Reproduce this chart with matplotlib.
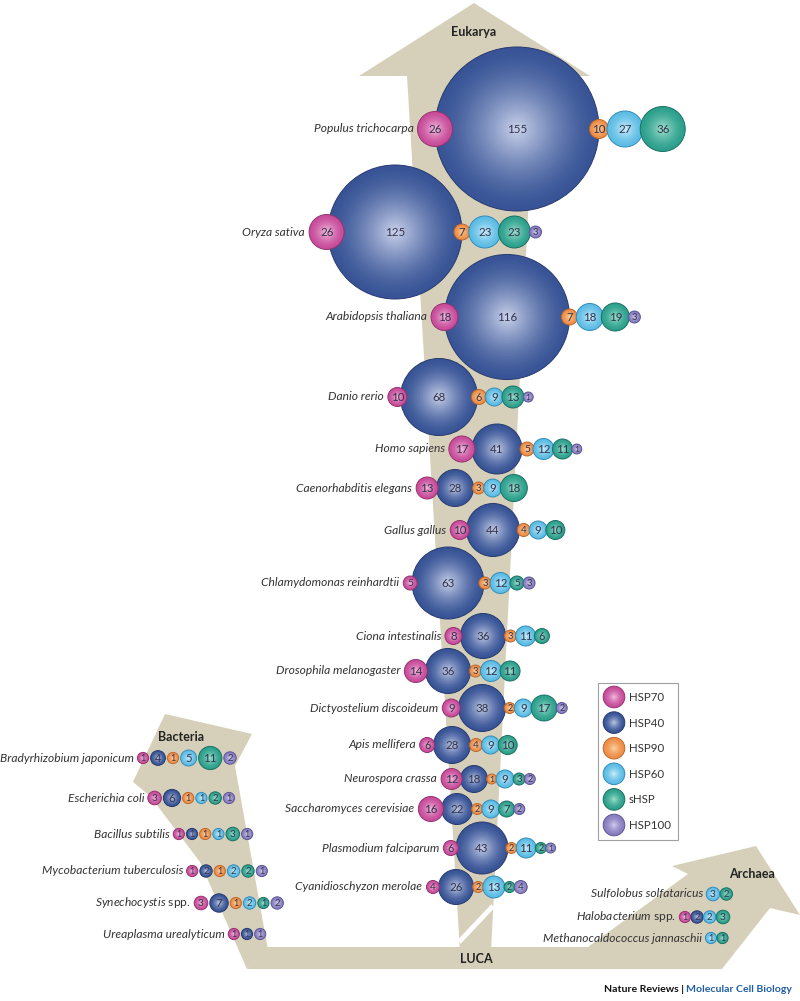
import numpy as np
import matplotlib
matplotlib.use("Agg")
import matplotlib.pyplot as plt
from matplotlib.patches import Circle, Polygon, Rectangle

plt.rcParams['font.family'] = ['Lato', 'DejaVu Sans']
plt.rcParams['mathtext.fontset'] = 'custom'
plt.rcParams['mathtext.it'] = 'Lato:italic'
plt.rcParams['mathtext.rm'] = 'Lato'

# ---------------- data ----------------
families = ["HSP70", "HSP40", "HSP90", "HSP60", "sHSP", "HSP100"]

euk_species = ["Populus trichocarpa", "Oryza sativa", "Arabidopsis thaliana", "Danio rerio",
               "Homo sapiens", "Caenorhabditis elegans", "Gallus gallus",
               "Chlamydomonas reinhardtii", "Ciona intestinalis", "Drosophila melanogaster",
               "Dictyostelium discoideum", "Apis mellifera", "Neurospora crassa",
               "Saccharomyces cerevisiae", "Plasmodium falciparum", "Cyanidioschyzon merolae"]
euk_hsp70 = [26, 26, 18, 10, 17, 13, 10, 5, 8, 14, 9, 6, 12, 16, 6, 4]
euk_hsp40 = [155, 125, 116, 68, 41, 28, 44, 63, 36, 36, 38, 28, 18, 22, 43, 26]
euk_hsp90 = [10, 7, 7, 6, 5, 3, 4, 3, 3, 3, 2, 4, 1, 2, 2, 2]
euk_hsp60 = [27, 23, 18, 9, 12, 9, 9, 12, 11, 12, 9, 9, 9, 9, 11, 13]
euk_shsp = [36, 23, 19, 13, 11, 18, 10, 5, 6, 11, 17, 10, 3, 7, 2, 2]
euk_hsp100 = [0, 3, 3, 1, 1, 0, 0, 3, 0, 0, 2, 0, 2, 2, 1, 4]

bac_species = ["Bradyrhizobium japonicum", "Escherichia coli", "Bacillus subtilis",
               "Mycobacterium tuberculosis", "Synechocystis spp.", "Ureaplasma urealyticum"]
bac_hsp70 = [1, 3, 1, 1, 3, 1]
bac_hsp40 = [4, 6, 1, 2, 7, 1]
bac_hsp90 = [1, 1, 1, 1, 1, 0]
bac_hsp60 = [5, 1, 1, 2, 2, 0]
bac_shsp = [11, 2, 3, 2, 1, 0]
bac_hsp100 = [2, 1, 1, 1, 2, 1]

arc_species = ["Sulfolobus solfataricus", "Halobacterium spp.", "Methanocaldococcus jannaschii"]
arc_hsp70 = [0, 1, 0]
arc_hsp40 = [0, 2, 0]
arc_hsp90 = [0, 0, 0]
arc_hsp60 = [3, 2, 1]
arc_shsp = [2, 3, 1]
arc_hsp100 = [0, 0, 0]

# ---------------- layout / style ----------------
euk_row_y = [129, 232, 317, 397, 449, 488, 530, 583, 636, 671, 708, 745, 779, 809, 848, 887]
euk_anchor_x = [517, 395, 507, 439, 497, 455, 493, 448, 483, 448, 482, 452, 474, 457, 482, 456]
bac_row_y = [758, 798, 834, 871, 903, 934]
bac_anchor_x = [158, 172, 192, 206, 219, 247]
arc_row_y = [894, 917, 938]
arc_anchor_x = [713, 697, 711]

# (base, light centre, outline)
palette = {
    "HSP70": ((200, 76, 154), (244, 200, 230), (150, 50, 112)),
    "HSP40": ((56, 84, 150), (204, 212, 236), (38, 58, 110)),
    "HSP90": ((238, 142, 72), (253, 216, 172), (190, 104, 42)),
    "HSP60": ((92, 188, 228), (214, 242, 252), (50, 140, 186)),
    "sHSP": ((44, 160, 140), (170, 228, 212), (28, 112, 98)),
    "HSP100": ((135, 125, 192), (216, 212, 240), (92, 84, 150)),
}
BEIGE = '#d6d0ba'
PX = 0.72  # points per pixel at 100 dpi


def rgb(c):
    return np.array(c) / 255.0


def euk_radius(v):
    return 4.5 + 0.5 * v


def prok_radius(v):
    return 5.0 + 0.6 * v


def euk_overlap(ra, rb):
    small, big = min(ra, rb), max(ra, rb)
    ov = 0.15 * small + max(0.0, 0.3 * (big - 22))
    return min(ov, small)


fig = plt.figure(figsize=(8.0, 10.01), dpi=100)
ax = fig.add_axes([0, 0, 1, 1])
ax.set_xlim(0, 800)
ax.set_ylim(1001, 0)
ax.axis('off')

# ---------------- background tree ----------------
tree_shapes = [
    [(474, 3), (590, 76), (535, 76), (491, 952), (460, 952), (407, 76), (359, 76)],      # Eukarya
    [(247, 969), (267, 947), (630, 947), (640, 969)],                                     # base bar
    [(165, 714), (252, 734), (235, 766), (268, 950), (247, 969), (200, 862), (150, 796), (133, 782)],  # Bacteria
    [(600, 969), (588, 947), (688, 874), (672, 866), (756, 846), (800, 915), (770, 908), (722, 969)],  # Archaea
]
for pts in tree_shapes:
    ax.add_patch(Polygon(pts, closed=True, fc=BEIGE, ec='none', zorder=1))
ax.plot([493, 459], [906, 942], color='white', lw=3.5, solid_capstyle='butt', zorder=2)

for txt, (tx, ty) in [("Eukarya", (474, 32)), ("Bacteria", (181, 737)),
                      ("Archaea", (752, 874)), ("LUCA", (476, 959))]:
    ax.text(tx, ty, txt, ha='center', va='center', fontsize=12.5 * PX,
            fontweight='bold', color='#222222', zorder=3)


# ---------------- balls ----------------
def draw_ball(x, y, r, fam, z):
    base, light, edge = (rgb(c) for c in palette[fam])
    n = int(np.clip(r * 0.7, 8, 50))
    for i in range(n):
        t = 1 - i / n
        f = (1 - t) ** 1.5
        col = base * (1 - f) + light * f
        ax.add_patch(Circle((x, y), r * t, fc=col, ec='none', zorder=z))
    ax.add_patch(Circle((x, y), r, fc='none', ec=edge, lw=0.7, zorder=z))


draw_order = [1, 0, 2, 3, 4, 5]


def draw_row(name, vals, y, anchor, rfun, spacing, zbase, label_gap=4):
    present = [i for i, v in enumerate(vals) if v > 0]
    radii = [rfun(vals[i]) for i in present]
    xs = [0.0]
    for k in range(1, len(present)):
        xs.append(xs[-1] + radii[k - 1] + radii[k] + spacing(radii[k - 1], radii[k]))
    k0 = present.index(1) if 1 in present else 0
    shift = anchor - xs[k0]
    xs = [xx + shift for xx in xs]
    for fi in draw_order:
        if fi not in present:
            continue
        k = present.index(fi)
        z = zbase + draw_order.index(fi) * 0.01
        draw_ball(xs[k], y, radii[k], families[fi], z)
        fs = float(np.clip(4 + 0.9 * radii[k], 8.3, 11.5))
        ax.text(xs[k], y + 0.5, str(vals[fi]), ha='center', va='center',
                fontsize=fs * PX, color='#33334a', zorder=z + 0.005)
    left = xs[0] - radii[0] - label_gap
    if name.endswith(" spp."):
        genus = name.split(" ")[0]
        label = r"$\mathit{" + genus + r"}$ spp."
        ax.text(left, y, label, ha='right', va='center', fontsize=12 * PX,
                color='#333333', zorder=zbase)
    else:
        ax.text(left, y, name, ha='right', va='center', fontsize=12 * PX,
                style='italic', color='#333333', zorder=zbase)


def rows(*cols):
    return [list(t) for t in zip(*cols)]


euk_vals = rows(euk_hsp70, euk_hsp40, euk_hsp90, euk_hsp60, euk_shsp, euk_hsp100)
bac_vals = rows(bac_hsp70, bac_hsp40, bac_hsp90, bac_hsp60, bac_shsp, bac_hsp100)
arc_vals = rows(arc_hsp70, arc_hsp40, arc_hsp90, arc_hsp60, arc_shsp, arc_hsp100)

for i, (nm, v) in enumerate(zip(euk_species, euk_vals)):
    draw_row(nm, v, euk_row_y[i], euk_anchor_x[i], euk_radius,
             lambda a, b: -euk_overlap(a, b), 10 + i)
for i, (nm, v) in enumerate(zip(bac_species, bac_vals)):
    draw_row(nm, v, bac_row_y[i], bac_anchor_x[i], prok_radius,
             lambda a, b: 2.0, 40 + i, label_gap=3)
for i, (nm, v) in enumerate(zip(arc_species, arc_vals)):
    draw_row(nm, v, arc_row_y[i], arc_anchor_x[i], prok_radius,
             lambda a, b: 0.3, 50 + i, label_gap=3)

# ---------------- legend ----------------
ax.add_patch(Rectangle((598, 683), 80, 157, fc='white', ec='#a0a0a0', lw=0.8, zorder=60))
for i, fam in enumerate(families):
    ly = 697 + 25.6 * i
    draw_ball(614, ly, 10.8, fam, 61 + i * 0.01)
    ax.text(629, ly + 0.5, fam, ha='left', va='center', fontsize=11.5 * PX,
            color='#333333', zorder=62)

# ---------------- footer ----------------
fig.canvas.draw()
rend = fig.canvas.get_renderer()
t2 = ax.text(792, 989, "Molecular Cell Biology", ha='right', va='center',
             fontsize=10.5 * PX, fontweight='bold', color='#1f5fa6', zorder=70)
bb = t2.get_window_extent(renderer=rend)
x_left = ax.transData.inverted().transform((bb.x0, bb.y0))[0]
ax.text(x_left - 2, 989, "Nature Reviews |", ha='right', va='center',
        fontsize=10.5 * PX, fontweight='bold', color='#111111', zorder=70)

fig.savefig("out.png", dpi=100, facecolor='white')
